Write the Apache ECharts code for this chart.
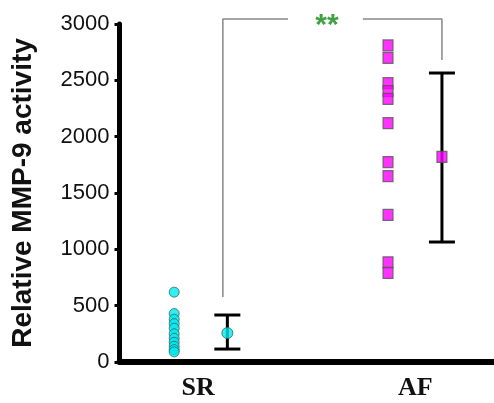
<!DOCTYPE html>
<html>
<head>
<meta charset="utf-8">
<script src="https://cdn.jsdelivr.net/npm/echarts@6/dist/echarts.min.js"></script>
<style>
  html, body { margin: 0; padding: 0; background: #fff; }
  #chart { width: 494px; height: 403px; }
</style>
</head>
<body>
<div id="chart"></div>
<script>
// groups and their values
var groups = ['SR', 'AF'];
var srValues = [620, 430, 380, 340, 300, 250, 210, 175, 140, 110, 90];
var afValues = [2810, 2700, 2475, 2405, 2335, 2120, 1775, 1650, 1305, 885, 790];
// mean, lower, upper of the error bars
var srStats = [257, 115, 417];
var afStats = [1820, 1065, 2565];
var yTicks = [0, 500, 1000, 1500, 2000, 2500, 3000];

// x placement on a 0..10 hidden scale
var xLabel = [2.1, 7.9];
var xPoints = [1.46, 7.17];
var xMean = [2.88, 8.61];

var myChart = echarts.init(document.getElementById('chart'));

function errBar(params, api) {
  var top = api.coord([api.value(0), api.value(2)]);
  var bot = api.coord([api.value(0), api.value(1)]);
  var half = 13;
  var st = { stroke: '#000', lineWidth: 3 };
  return {
    type: 'group',
    children: [
      { type: 'line', shape: { x1: top[0], y1: top[1], x2: bot[0], y2: bot[1] }, style: st },
      { type: 'line', shape: { x1: top[0] - half, y1: top[1], x2: top[0] + half, y2: top[1] }, style: st },
      { type: 'line', shape: { x1: bot[0] - half, y1: bot[1], x2: bot[0] + half, y2: bot[1] }, style: st }
    ]
  };
}

var option = {
  animation: false,
  grid: { left: 119.5, right: 0, top: 24, bottom: 41 },
  xAxis: {
    type: 'value',
    min: 0,
    max: 10,
    splitLine: { show: false },
    axisTick: { show: false },
    axisLine: { lineStyle: { color: '#000', width: 6 } },
    axisLabel: {
      customValues: xLabel,
      margin: 13,
      fontFamily: 'Liberation Serif',
      fontWeight: 'bold',
      fontSize: 26,
      color: '#111',
      formatter: function (v) {
        return groups[xLabel.indexOf(v)];
      }
    }
  },
  yAxis: {
    type: 'value',
    min: 0,
    max: 3000,
    interval: 500,
    splitLine: { show: false },
    axisLine: { show: true, lineStyle: { color: '#000', width: 5 } },
    axisTick: { show: true, length: 5, lineStyle: { color: '#000', width: 3 } },
    axisLabel: {
      margin: 10,
      fontFamily: 'Liberation Sans',
      fontSize: 22,
      color: '#111',
      formatter: function (v) { return String(v); }
    },
    name: 'Relative MMP-9 activity',
    nameLocation: 'middle',
    nameGap: 82,
    nameTextStyle: {
      fontFamily: 'Liberation Sans',
      fontWeight: 'bold',
      fontSize: 28,
      color: '#111'
    }
  },
  series: [
    {
      type: 'line',
      clip: false,
      data: [[2.76, 577], [2.76, 3045], [4.5, 3045], null, [6.5, 3045], [8.61, 3045], [8.61, 2680]],
      connectNulls: false,
      symbol: 'none',
      lineStyle: { color: '#888', width: 1.5 },
      z: 1
    },
    {
      type: 'custom',
      renderItem: errBar,
      data: [[xMean[0], srStats[1], srStats[2]], [xMean[1], afStats[1], afStats[2]]],
      z: 2
    },
    {
      type: 'scatter',
      symbol: 'circle',
      symbolSize: 10,
      itemStyle: { color: '#00e8ee', borderColor: '#2a6a6a', borderWidth: 1 },
      data: srValues.map(function (v) { return [xPoints[0], v]; }),
      z: 3
    },
    {
      type: 'scatter',
      symbol: 'circle',
      symbolSize: 11,
      itemStyle: { color: '#00e8ee', borderColor: '#2a6a6a', borderWidth: 1 },
      data: [[xMean[0], srStats[0]]],
      z: 3
    },
    {
      type: 'scatter',
      symbol: 'rect',
      symbolSize: [10, 11],
      itemStyle: { color: '#ff00ff', borderColor: '#555', borderWidth: 1.2 },
      data: afValues.map(function (v) { return [xPoints[1], v]; }).concat([[xMean[1], afStats[0]]]),
      z: 3
    },
    {
      type: 'scatter',
      clip: false,
      symbolSize: 1,
      itemStyle: { color: 'rgba(0,0,0,0)' },
      data: [[5.54, 3045]],
      label: {
        show: true,
        position: 'inside',
        formatter: '**',
        fontFamily: 'Liberation Sans',
        fontWeight: 'bold',
        fontSize: 30,
        color: '#118811',
        offset: [0, 7]
      },
      z: 4
    }
  ]
};
myChart.setOption(option);
</script>
</body>
</html>
